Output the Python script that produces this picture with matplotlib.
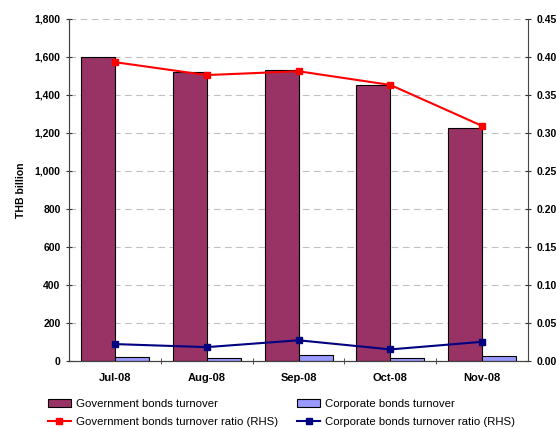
import numpy as np
import matplotlib
matplotlib.use('Agg')
from matplotlib import pyplot as plt

plt.rcParams['font.family'] = ['Liberation Sans', 'DejaVu Sans']

months = ['Jul-08', 'Aug-08', 'Sep-08', 'Oct-08', 'Nov-08']
gov_turnover = [1600, 1520, 1530, 1450, 1225]
corp_turnover = [22, 16, 28, 17, 24]
gov_ratio = [0.393, 0.376, 0.381, 0.363, 0.309]
corp_ratio = [0.022, 0.018, 0.027, 0.015, 0.025]

fig = plt.figure(figsize=(5.56, 4.28), dpi=100)
ax = fig.add_axes([0.124, 0.157, 0.826, 0.799])
ax2 = ax.twinx()

x = np.arange(len(months))
w = 0.37
b1 = ax.bar(x - w / 2, gov_turnover, w, color='#993366', edgecolor='black', linewidth=0.8,
            label='Government bonds turnover', zorder=2)
b2 = ax.bar(x + w / 2, corp_turnover, w, color='#9999FF', edgecolor='black', linewidth=0.8,
            label='Corporate bonds turnover', zorder=2)
l1, = ax2.plot(x, gov_ratio, color='#FF0000', marker='s', markersize=4, linewidth=1.5,
               label='Government bonds turnover ratio (RHS)')
l2, = ax2.plot(x, corp_ratio, color='#000080', marker='s', markersize=4, linewidth=1.5,
               label='Corporate bonds turnover ratio (RHS)')

ax.set_xlim(-0.5, len(months) - 0.5)
ax.set_ylim(0, 1800)
ax.set_yticks(range(0, 1801, 200))
ax.set_yticklabels([f'{v:,}' for v in range(0, 1801, 200)])
ax2.set_ylim(0, 0.45)
ax2.set_yticks(np.arange(0, 0.451, 0.05))
ax2.set_yticklabels([f'{v:.2f}' for v in np.arange(0, 0.451, 0.05)])

ax.yaxis.grid(True, color='#c0c0c0', linestyle=(0, (6, 4)), linewidth=0.8, zorder=0)
ax.set_axisbelow(True)

ax.set_xticks(x)
ax.set_xticklabels(months)
ax.set_xticks(np.arange(0.5, len(months) - 0.5, 1), minor=True)
ax.tick_params(axis='x', which='major', length=0, pad=9)
ax.tick_params(axis='x', which='minor', direction='inout', length=5, color='#333333')
ax.tick_params(axis='y', direction='inout', length=5, color='#333333')
ax2.tick_params(axis='y', direction='inout', length=5, color='#333333')

for a in (ax, ax2):
    a.spines['top'].set_visible(False)
    for s in ('left', 'right', 'bottom'):
        a.spines[s].set_color('#444444')
    for lab in a.get_yticklabels():
        lab.set_fontweight('bold')
        lab.set_fontsize(7.5)
for lab in ax.get_xticklabels():
    lab.set_fontweight('bold')
    lab.set_fontsize(8)
ax.spines['right'].set_visible(False)

ax.set_ylabel('THB billion', fontsize=7.5, fontweight='bold', labelpad=6)

fig.legend([b1, l1, b2, l2],
           ['Government bonds turnover', 'Government bonds turnover ratio (RHS)',
            'Corporate bonds turnover', 'Corporate bonds turnover ratio (RHS)'],
           ncol=2, frameon=False, fontsize=8.2, loc='lower left',
           bbox_to_anchor=(0.067, -0.022), handlelength=2.1, columnspacing=1.6,
           handletextpad=0.42, labelspacing=0.75)

fig.savefig('out.png', dpi=100)
